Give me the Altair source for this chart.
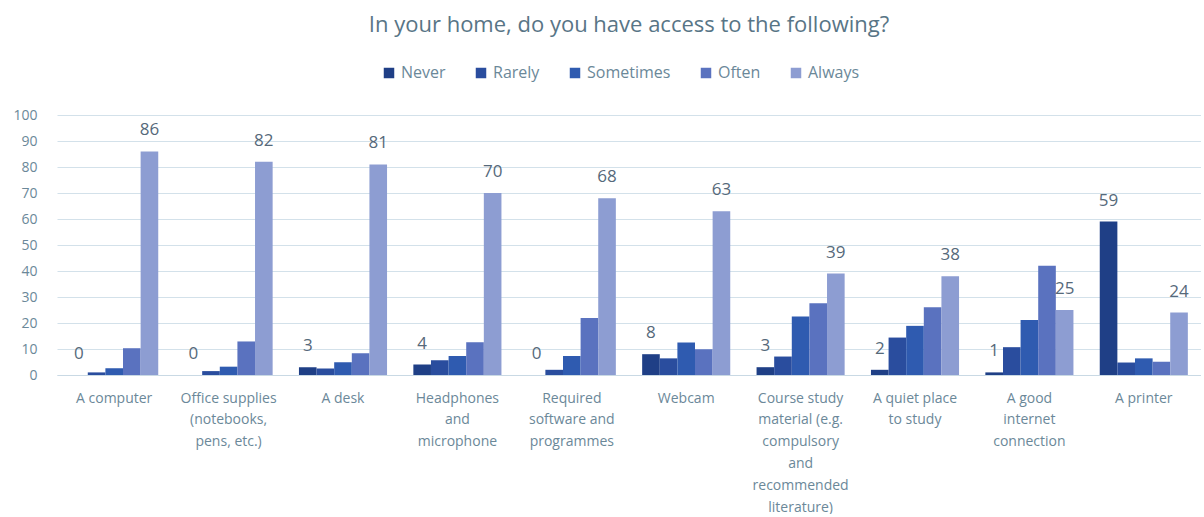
import altair as alt
import pandas as pd

categories = [
    "A computer",
    "Office supplies|(notebooks,|pens, etc.)",
    "A desk",
    "Headphones|and|microphone",
    "Required|software and|programmes",
    "Webcam",
    "Course study|material (e.g.|compulsory|and|recommended|literature)",
    "A quiet place|to study",
    "A good|internet|connection",
    "A printer",
]
series = ["Never", "Rarely", "Sometimes", "Often", "Always"]
never = [0, 0, 3, 4, 0, 8, 3, 2, 1, 59]
rarely = [1, 1.5, 2.5, 5.7, 2, 6.4, 7.1, 14.4, 10.7, 4.8]
sometimes = [2.6, 3.2, 4.9, 7.3, 7.3, 12.5, 22.5, 18.9, 21.2, 6.4]
often = [10.3, 12.9, 8.4, 12.6, 21.9, 9.9, 27.6, 26.1, 42, 5.1]
always = [86, 82, 81, 70, 68, 63, 39, 38, 25, 24]
colors = ["#1f3f86", "#2a4d9e", "#2f5bb0", "#5a72bf", "#8d9dd2"]

rows = []
for s, vals in zip(series, [never, rarely, sometimes, often, always]):
    for c, v in zip(categories, vals):
        rows.append({"cat": c, "series": s, "value": v,
                     "label": str(int(round(v))) if s in ("Never", "Always") else ""})
df = pd.DataFrame(rows)

FONT = "Open Sans"
TXT = "#6b8899"

x = alt.X("cat:N", sort=categories, title=None,
          scale=alt.Scale(paddingInner=0.23, paddingOuter=0.115),
          axis=alt.Axis(labelAngle=0, labelExpr="split(datum.label, '|')",
                        labelLineHeight=21.8, labelFontSize=14, labelColor=TXT,
                        labelFont=FONT, ticks=False, labelPadding=16,
                        domainColor="#c9d9e4", labelLimit=200))
xo = alt.XOffset("series:N", sort=series)
y = alt.Y("value:Q", title=None, scale=alt.Scale(domain=[0, 100]),
          axis=alt.Axis(values=list(range(0, 101, 10)), ticks=False,
                        domain=False, gridColor="#d3e1ea", labelFontSize=14,
                        labelColor=TXT, labelFont=FONT, labelPadding=20,
                        labelOverlap=False))

bars = alt.Chart(df).mark_bar().encode(
    x=x,
    xOffset=xo,
    y=y,
    color=alt.Color("series:N", sort=series,
                    scale=alt.Scale(domain=series, range=colors),
                    legend=alt.Legend(orient="none", legendX=324, legendY=-50,
                                      title=None, direction="horizontal",
                                      symbolType="square", symbolSize=110,
                                      labelFontSize=16, labelColor=TXT, labelFont=FONT,
                                      columnPadding=27, symbolStrokeWidth=0)),
)

labels = alt.Chart(df).mark_text(dy=-21, fontSize=17, font=FONT, color="#56697a").encode(
    x=x,
    xOffset=xo,
    y=y,
    text="label:N",
)

chart = alt.layer(bars, labels).properties(
    width=1144, height=260,
    padding={"left": 12, "top": 14, "right": 0, "bottom": 0},
    title=alt.TitleParams("In your home, do you have access to the following?",
                          fontSize=22, font=FONT, fontWeight="normal", color="#587586",
                          anchor="middle", offset=28),
).configure_view(stroke=None)

chart.save("out.html", embed_options={"renderer": "svg", "actions": False})
